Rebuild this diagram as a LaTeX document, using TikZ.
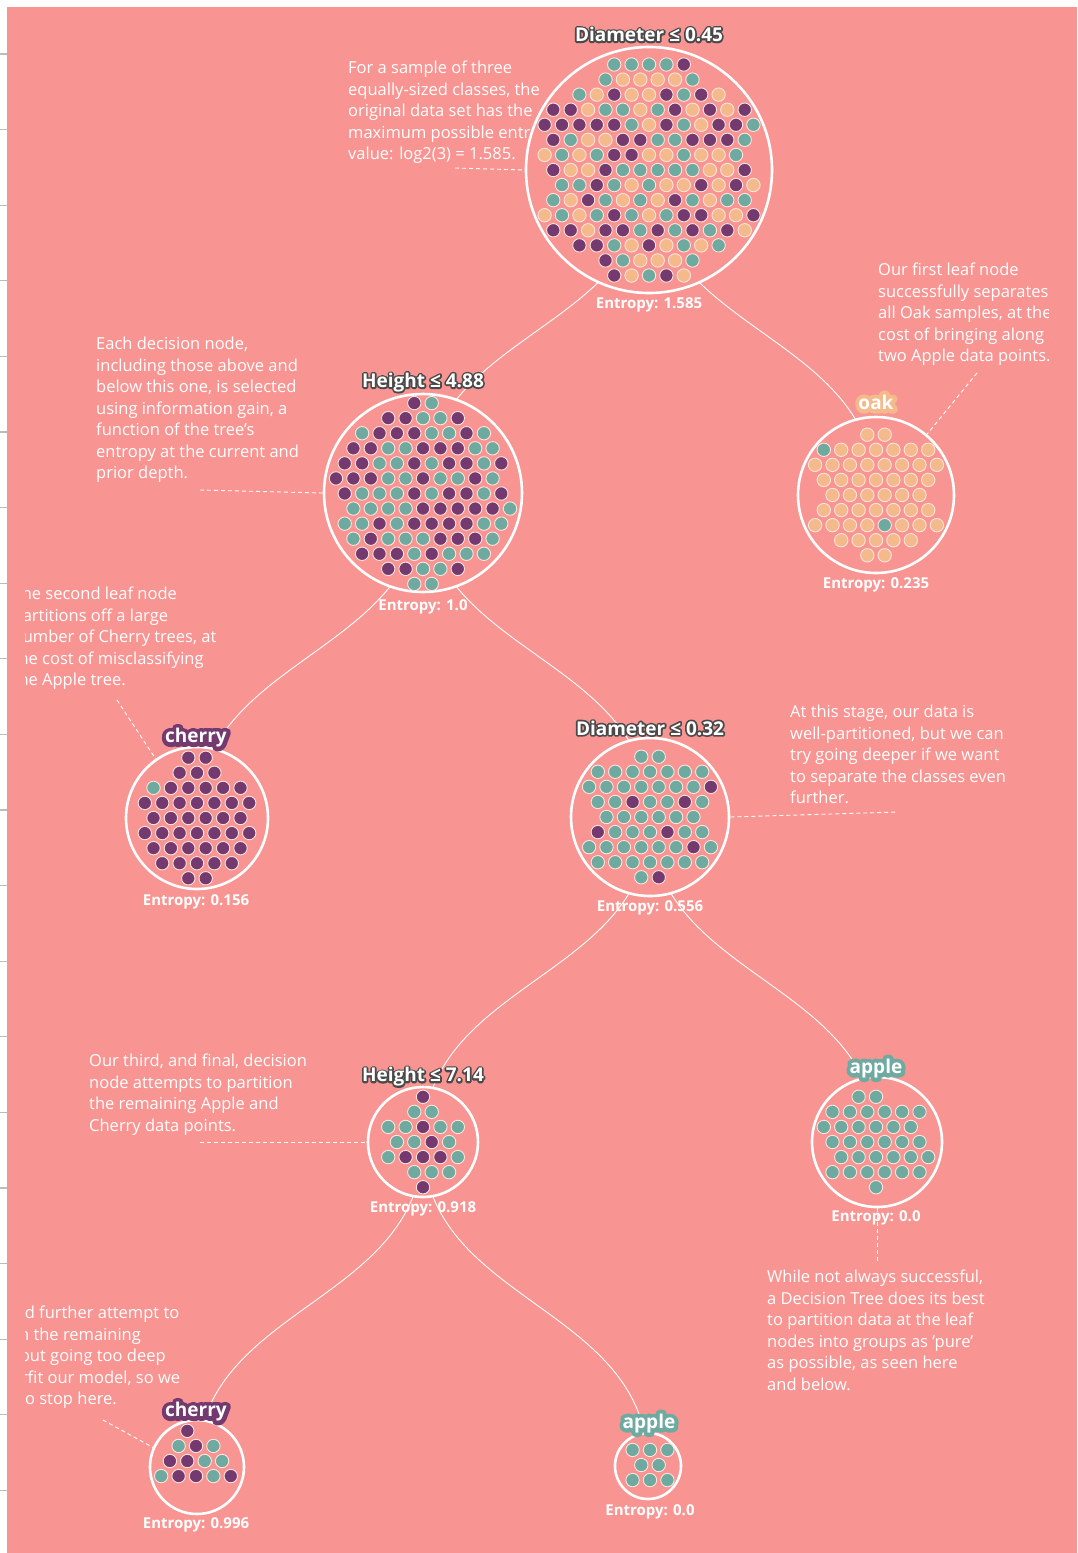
\documentclass[tikz,border=0pt]{standalone}
\usepackage{fontspec}
\setmainfont{Open Sans}
\newfontface\titlerim{Open Sans Bold}[FakeBold=18]
\newfontface\leafrim{Open Sans Bold}[FakeBold=44]

\definecolor{bgpink}{HTML}{F89592}
\definecolor{ap}{HTML}{6EAAA0}
\definecolor{ch}{HTML}{74396F}
\definecolor{ok}{HTML}{F5BA8B}
\definecolor{dotedge}{HTML}{FCE4DE}
\definecolor{titleedge}{HTML}{4A4A4A}
\definecolor{tickgray}{HTML}{BDBDBD}

\pgfdeclarelayer{back}
\pgfsetlayers{back,main}

% rows of samples: j = row, k = first column (half steps), then the colours
\newcommand{\dotrows}[2]{%
	\foreach \j/\k/\cols in {#2}
		\foreach \col [count=\i from 0] in \cols
			\filldraw [dot, fill=\col] ([shift={({(\k+2*\i)*8.7},{\j*15.07})}]#1) circle (6.7);
}

% white text on a thick rim of the same text
\newcommand{\outlined}[5]{%
	\node [title, text=#3, line join=round, font={#4\fontsize{19}{22}\selectfont}] at (#2) {#5};
	\node [title, text=white] (#1) at (#2) {#5};
}

\begin{document}
\begin{tikzpicture}[x = 1pt, y = -1pt,
	treenode/.style = {circle, draw = white, line width = 2.6pt, fill = bgpink, inner sep = 0},
	dot/.style = {draw = dotedge, line width = 0.9pt},
	title/.style = {font = \fontsize{19}{22}\selectfont\bfseries, anchor = base, inner sep = 0},
	entropy/.style = {font = \fontsize{15}{17}\selectfont\bfseries, text = white, anchor = base, inner sep = 0},
	note/.style = {font = \fontsize{16.5}{21.5}\selectfont, text = white, align = left, anchor = north west, inner sep = 0},
	link/.style = {white, line width = 0.9pt},
	leader/.style = {white, line width = 0.9pt, dash pattern = on 4pt off 3pt}]

	\useasboundingbox (0, 0) rectangle (1077, 1553);

	% Tree nodes

	\node [treenode, minimum size = 246pt] (root) at (649, 170) {};
	\node [treenode, minimum size = 198pt] (hgtA) at (423, 493) {};
	\node [treenode, minimum size = 156pt] (oak) at (876, 495) {};
	\node [treenode, minimum size = 142pt] (chA) at (197, 818) {};
	\node [treenode, minimum size = 158pt] (dmB) at (650, 817) {};
	\node [treenode, minimum size = 110pt] (hgtB) at (423, 1142) {};
	\node [treenode, minimum size = 130pt] (apA) at (877, 1142) {};
	\node [treenode, minimum size = 94pt] (chB) at (197, 1467) {};
	\node [treenode, minimum size = 66pt] (apB) at (648, 1466) {};

	\coordinate (hgtAgrid) at (423, 493.5);
	\coordinate (apAgrid) at (876, 1142);
	\coordinate (chBgrid) at (196, 1461);
	\coordinate (apBgrid) at (650, 1465);

	% Samples

	\dotrows{root.center}{
		-7/-4/{ap,ap,ap,ap,ch},
		-6/-5/{ap,ok,ok,ok,ok,ap},
		-5/-8/{ap,ok,ch,ok,ok,ch,ap,ch,ok},
		-4/-11/{ch,ch,ok,ap,ap,ok,ap,ch,ok,ch,ok,ch},
		-3/-12/{ch,ch,ch,ch,ch,ap,ok,ch,ap,ok,ch,ch,ap},
		-2/-11/{ch,ap,ok,ok,ch,ch,ap,ap,ch,ch,ch,ap},
		-1/-12/{ok,ap,ok,ap,ch,ch,ok,ok,ap,ok,ok,ap},
		0/-11/{ch,ok,ok,ch,ap,ap,ap,ap,ap,ok,ok,ch},
		1/-10/{ap,ap,ch,ap,ok,ap,ok,ok,ch,ok,ch,ok},
		2/-11/{ap,ok,ch,ap,ok,ap,ok,ch,ap,ok,ap,ap},
		3/-12/{ok,ap,ok,ap,ch,ap,ok,ap,ch,ch,ok,ok,ch},
		4/-11/{ch,ch,ok,ch,ch,ap,ch,ap,ch,ap,ch,ok},
		5/-8/{ch,ch,ap,ok,ch,ok,ap,ok,ap},
		6/-5/{ch,ap,ok,ok,ok,ap},
		7/-4/{ch,ok,ap,ch,ok}}

	\dotrows{hgtAgrid}{
		-6/-1/{ch,ap},
		-5/-4/{ch,ch,ap,ap,ch},
		-4/-7/{ap,ch,ch,ch,ap,ap,ch,ap},
		-3/-8/{ch,ch,ap,ap,ch,ch,ch,ap,ap},
		-2/-9/{ch,ch,ap,ap,ch,ap,ch,ch,ap,ch},
		-1/-10/{ch,ch,ch,ap,ap,ch,ap,ap,ch,ap},
		0/-9/{ch,ap,ap,ap,ch,ap,ch,ch,ap,ch},
		1/-8/{ap,ap,ap,ap,ch,ch,ch,ch,ch,ap},
		2/-9/{ap,ap,ch,ap,ch,ch,ch,ch,ap,ap},
		3/-8/{ap,ch,ap,ap,ap,ch,ch,ch,ap},
		4/-7/{ch,ch,ch,ap,ch,ap,ap,ap},
		5/-4/{ch,ch,ap,ap,ch},
		6/-1/{ap,ap}}

	\dotrows{oak.center}{
		-4/-1/{ok,ok},
		-3/-6/{ap,ok,ok,ok,ok,ok,ok},
		-2/-7/{ok,ok,ok,ok,ok,ok,ok,ok},
		-1/-6/{ok,ok,ok,ok,ok,ok,ok},
		0/-5/{ok,ok,ok,ok,ok,ok},
		1/-6/{ok,ok,ok,ok,ok,ok,ok},
		2/-7/{ok,ok,ok,ok,ap,ok,ok,ok},
		3/-4/{ok,ok,ok,ok,ok},
		4/-1/{ok,ok}}

	\dotrows{chA.center}{
		-4/-1/{ch,ch},
		-3/-2/{ch,ch,ch},
		-2/-5/{ap,ch,ch,ch,ch,ch},
		-1/-6/{ch,ch,ch,ch,ch,ch,ch},
		0/-5/{ch,ch,ch,ch,ch,ch},
		1/-6/{ch,ch,ch,ch,ch,ch,ch},
		2/-5/{ch,ch,ch,ch,ch,ch},
		3/-4/{ch,ch,ch,ch,ch},
		4/-1/{ch,ch}}

	\dotrows{dmB.center}{
		-4/-1/{ap,ap},
		-3/-6/{ap,ap,ap,ap,ap,ap,ap},
		-2/-7/{ap,ap,ap,ap,ap,ap,ap,ch},
		-1/-6/{ap,ap,ch,ap,ap,ch,ap},
		0/-5/{ap,ap,ap,ap,ap,ap},
		1/-6/{ch,ap,ap,ap,ch,ap,ap},
		2/-7/{ap,ap,ap,ap,ap,ap,ch,ap},
		3/-6/{ap,ap,ap,ap,ap,ap,ap},
		4/-1/{ap,ch}}

	\dotrows{hgtB.center}{
		-3/0/{ch},
		-2/-1/{ap,ap},
		-1/-4/{ap,ap,ch,ap,ap},
		0/-3/{ap,ap,ch,ap},
		1/-4/{ap,ch,ch,ch,ap},
		2/-1/{ap,ap,ap},
		3/0/{ch}}

	\dotrows{apAgrid}{
		-3/-2/{ap,ap},
		-2/-5/{ap,ap,ap,ap,ap,ap},
		-1/-6/{ap,ap,ap,ap,ap,ap},
		0/-5/{ap,ap,ap,ap,ap,ap},
		1/-4/{ap,ap,ap,ap,ap,ap},
		2/-5/{ap,ap,ap,ap,ap,ap},
		3/0/{ap}}

	\dotrows{chBgrid}{
		-2/-1/{ch},
		-1/-2/{ap,ch,ap},
		0/-3/{ch,ch,ap,ap},
		1/-4/{ap,ch,ch,ap,ch}}

	\dotrows{apBgrid}{
		-1/-2/{ap,ap,ap},
		0/-1/{ap,ap},
		1/-2/{ap,ap,ap}}

	% Split and class labels

	\outlined{rootlbl}{649,41.5}{titleedge}{\titlerim}{Diameter ≤ 0.45}
	\outlined{hgtAlbl}{423,387.3}{titleedge}{\titlerim}{Height ≤ 4.88}
	\outlined{oaklbl}{876,409.3}{ok}{\leafrim}{oak}
	\outlined{chAlbl}{196,742.7}{ch}{\leafrim}{cherry}
	\outlined{dmBlbl}{650,735}{titleedge}{\titlerim}{Diameter ≤ 0.32}
	\outlined{hgtBlbl}{423,1081.7}{titleedge}{\titlerim}{Height ≤ 7.14}
	\outlined{apAlbl}{876,1073.3}{ap}{\leafrim}{apple}
	\outlined{chBlbl}{196,1416.7}{ch}{\leafrim}{cherry}
	\outlined{apBlbl}{649,1428.3}{ap}{\leafrim}{apple}

	\begin{pgfonlayer}{back}

		% Page + tick marks

		\fill [white] (0, 0) rectangle (1077, 1553);
		\fill [bgpink] (7, 7) rectangle (1077, 1553);
		\foreach \t in {0, ..., 19}
			\draw [tickgray, line width = 1.2pt] (0, {54 + 75.6 * \t}) -- (7, {54 + 75.6 * \t});

		% Notes

		\begin{scope}
			\clip (25, 0) rectangle (1048, 1553);
			\node [note] (rootnote) at (348, 61) {For a sample of three\\equally-sized classes, the\\original data set has the\\maximum possible entropy\\value: log2(3) = 1.585.};
			\node [note] (oaknote) at (878, 263) {Our first leaf node\\successfully separates\\all Oak samples, at the\\cost of bringing along\\two Apple data points.};
			\node [note] (hgtAnote) at (96, 337) {Each decision node,\\including those above and\\below this one, is selected\\using information gain, a\\function of the tree's\\entropy at the current and\\prior depth.};
			\node [note] (chAnote) at (12.5, 587) {The second leaf node\\partitions off a large\\number of Cherry trees, at\\the cost of misclassifying\\the Apple tree.};
			\node [note] (dmBnote) at (790, 705) {At this stage, our data is\\well-partitioned, but we can\\try going deeper if we want\\to separate the classes even\\further.};
			\node [note] (hgtBnote) at (89, 1054) {Our third, and final, decision\\node attempts to partition\\the remaining Apple and\\Cherry data points.};
			\node [note] (apAnote) at (767, 1270) {While not always successful,\\a Decision Tree does its best\\to partition data at the leaf\\nodes into groups as 'pure'\\as possible, as seen here\\and below.};
			\node [note] (chBnote) at (-36, 1306) {We could further attempt to\\split it in the remaining\\nodes, but going too deep\\will overfit our model, so we\\decide to stop here.};
		\end{scope}

		% Leader lines

		\coordinate (rootlead) at (455, 168);
		\coordinate (oaklead) at (977, 373);
		\coordinate (hgtAlead) at (200, 490);
		\coordinate (chAlead) at (117, 700);
		\coordinate (dmBlead) at (898, 812);
		\coordinate (hgtBlead) at (200, 1142);
		\coordinate (apAlead) at (877, 1262);
		\coordinate (chBlead) at (103, 1420);

		\draw [leader] (rootlead) -- (root.180);
		\draw [leader] (oaklead) -- (oak.50);
		\draw [leader] (hgtAlead) -- (hgtA.180);
		\draw [leader] (chAlead) -- (chA.125);
		\draw [leader] (dmB.0) -- (dmBlead);
		\draw [leader] (hgtBlead) -- (hgtB.180);
		\draw [leader] (apA.270) -- (apAlead);
		\draw [leader] (chBlead) -- (chB.156);

		% Entropy values

		\node [entropy] (rootent) at (649, 308.3) {Entropy: 1.585};
		\node [entropy] (hgtAent) at (423, 610.7) {Entropy: 1.0};
		\node [entropy] (oakent) at (876, 588.3) {Entropy: 0.235};
		\node [entropy] (chAent) at (196, 905) {Entropy: 0.156};
		\node [entropy] (dmBent) at (650, 911.7) {Entropy: 0.556};
		\node [entropy] (hgtBent) at (423, 1212.3) {Entropy: 0.918};
		\node [entropy] (apAent) at (876, 1221.7) {Entropy: 0.0};
		\node [entropy] (chBent) at (196, 1528.3) {Entropy: 0.996};
		\node [entropy] (apBent) at (650, 1515) {Entropy: 0.0};

		% Branches

		\foreach \p/\c in {root/hgtA, root/oak, hgtA/chA, hgtA/dmB, dmB/hgtB, dmB/apA, hgtB/chB, hgtB/apB} {
			\path (\p.center) -- (\c.center) coordinate [pos = 0.5] (mid);
			\draw [link] (\p.center) .. controls (mid -| \p.center) and (mid -| \c.center) .. (\c.center);
		}

	\end{pgfonlayer}

\end{tikzpicture}
\end{document}
